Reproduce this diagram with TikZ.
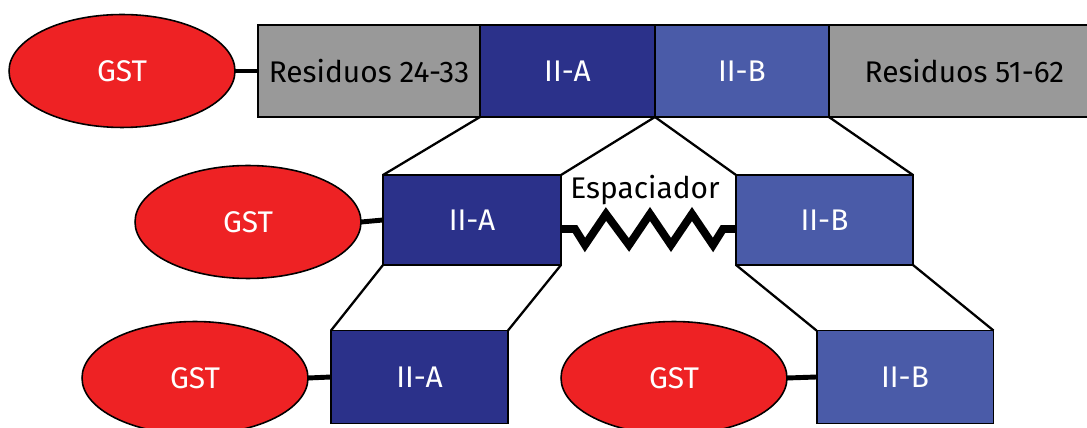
\documentclass[tikz,border=0pt]{standalone}
\usepackage{fontspec}
\setmainfont{Fira Sans}
\usepackage{tikz}
\usetikzlibrary{shapes.geometric, positioning}
\definecolor{gstred}{HTML}{EE2224}
\definecolor{darkblue}{HTML}{2B318A}
\definecolor{lightblue}{HTML}{4A5BA8}
\definecolor{resgray}{HTML}{999999}

\begin{document}
\begin{tikzpicture}[x=0.02cm, y=-0.02cm,
  font=\fontsize{17}{20}\selectfont,
  gst/.style={ellipse, draw, line width=0.9pt, fill=gstred, text=white,
    minimum width=4.52cm, minimum height=2.26cm, inner sep=0pt, outer sep=0pt},
  region/.style={draw, line width=1.1pt, inner sep=0pt, outer sep=0pt},
  residue/.style={region, fill=resgray, text=black},
  domA/.style={region, fill=darkblue, text=white},
  domB/.style={region, fill=lightblue, text=white},
  link/.style={line width=2.8pt},
  spring/.style={line width=4.5pt, line join=miter},
  zoomline/.style={line width=1.3pt}]
  \useasboundingbox (0,0) rectangle (1087,428);
  % Top row: full construct
  \node[gst] (gst1) at (122,71) {GST};
  \node[residue, minimum width=4.44cm, minimum height=1.84cm] (resA) at (369,71) {Residuos 24-33};
  \node[domA, minimum width=3.5cm, minimum height=1.84cm, right=0pt of resA] (topA) {II-A};
  \node[domB, minimum width=3.48cm, minimum height=1.84cm, right=0pt of topA] (topB) {II-B};
  \node[residue, minimum width=5.42cm, minimum height=1.84cm, right=0pt of topB] (resB) {Residuos 51-62};
  \draw[link] (gst1.east) -- (resA.west);
  % Middle row: domains joined by spacer
  \node[gst] (gst2) at (248,222) {GST};
  \node[domA, minimum width=3.56cm, minimum height=1.8cm] (midA) at (472,220) {II-A};
  \node[domB, minimum width=3.54cm, minimum height=1.8cm] (midB) at (824.5,220) {II-B};
  \draw[link] (gst2.east) -- (midA.west);
  \draw[spring] (midA.east) ++(0,9) -- ++(14,0) -- ++(10,16) -- ++(21,-31) -- ++(23,31)
    -- ++(21,-31) -- ++(21,31) -- ++(21,-31) -- ++(21,31) -- ++(10,-16) -- (midB.west |- 0,229);
  \node (spacer) at (645,190) {Espaciador};
  \draw[zoomline] (topA.south west) -- (midA.north west);
  \draw[zoomline] (topA.south east) -- (midA.north east);
  \draw[zoomline] (topB.south west) -- (midB.north west);
  \draw[zoomline] (topB.south east) -- (midB.north east);
  % Bottom row: single domains
  \node[gst] (gst3) at (195,378) {GST};
  \node[domA, minimum width=3.54cm, minimum height=1.86cm] (botA) at (419.5,377) {II-A};
  \node[gst] (gst4) at (674,378) {GST};
  \node[domB, minimum width=3.54cm, minimum height=1.86cm] (botB) at (905,377) {II-B};
  \draw[link] (gst3.east) -- (botA.west);
  \draw[link] (gst4.east) -- (botB.west);
  \draw[zoomline] (midA.south west) -- (botA.north west);
  \draw[zoomline] (midA.south east) -- (botA.north east);
  \draw[zoomline] (midB.south west) -- (botB.north west);
  \draw[zoomline] (midB.south east) -- (botB.north east);
\end{tikzpicture}
\end{document}
